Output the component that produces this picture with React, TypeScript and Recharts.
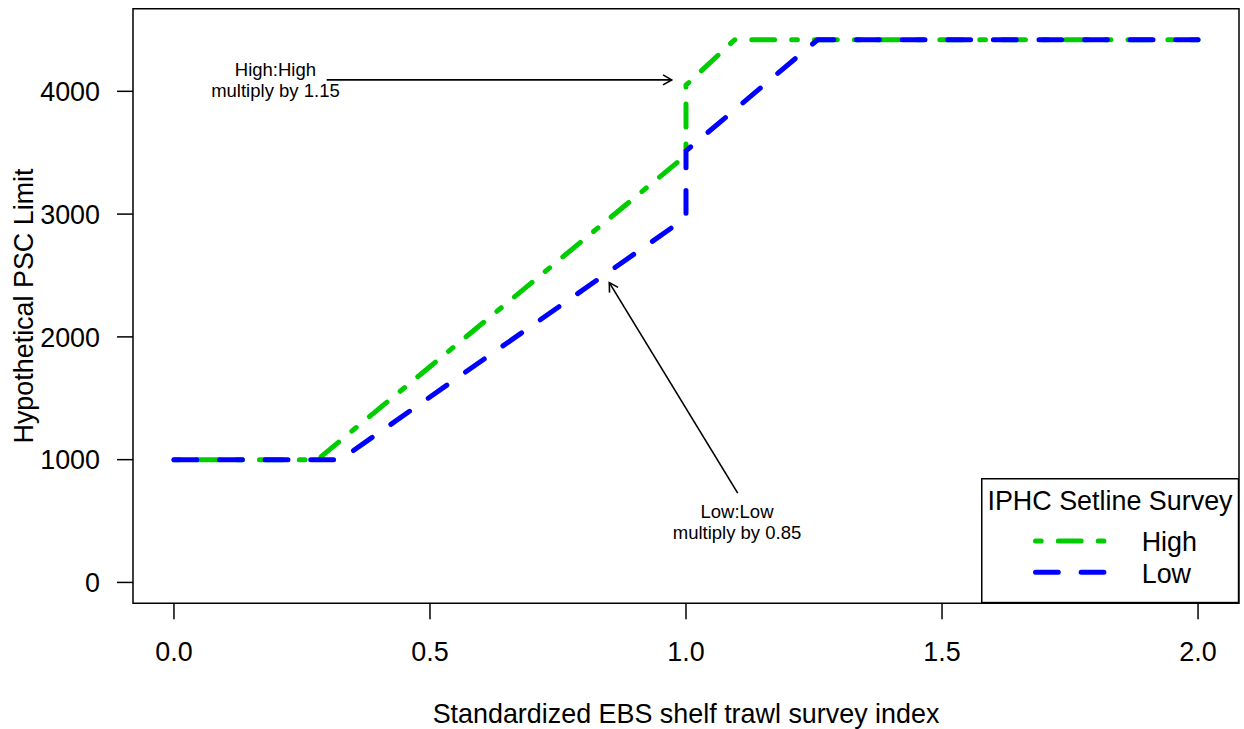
import React from 'react';
import {
  LineChart,
  Line,
  XAxis,
  YAxis,
  ReferenceArea,
  ReferenceLine,
  ReferenceDot,
} from 'recharts';

// ---- data ----
const highX = [0, 0.28, 1.0, 1.0, 1.095, 2.0];
const highY = [1000, 1000, 3480, 4050, 4420, 4420];
const lowX = [0, 0.325, 1.0, 1.0, 1.257, 2.0];
const lowY = [1000, 1000, 2970, 3515, 4420, 4420];

const xTicks = [0, 0.5, 1.0, 1.5, 2.0];
const yTicks = [0, 1000, 2000, 3000, 4000];
const xDomain = [-0.08, 2.08];
const yDomain = [-170, 4673];

const highArrow = [
  { x: 0.2982, y: 4093 },
  { x: 0.9721, y: 4093 },
];
const lowArrow = [
  { x: 1.101, y: 727 },
  { x: 0.8502, y: 2442 },
];
const highNote = { x: 0.1982, y: 4093, lines: ['High:High', 'multiply by 1.15'] };
const lowNote = { x: 1.0996, y: 495, lines: ['Low:Low', 'multiply by 0.85'] };

const legendTitle = 'IPHC Setline Survey';
const seriesNames = ['High', 'Low'];

const highData = highX.map((x, i) => ({ x, y: highY[i] }));
const lowData = lowX.map((x, i) => ({ x, y: lowY[i] }));

const FONT = '"Liberation Sans", Arial, sans-serif';
const FS = 26.9;
const GREEN = '#00CD00';
const BLUE = '#0000FF';
const U = 5.7;
const GREEN_DASH = `${U} ${3 * U} ${4 * U} ${3 * U}`;
const BLUE_DASH = `${4 * U} ${4 * U}`;

const Arrow = (props: any) => {
  const { x1, y1, x2, y2 } = props;
  const ang = Math.atan2(y2 - y1, x2 - x1);
  const L = 10;
  const a = Math.PI / 6;
  const ax = x2 - L * Math.cos(ang - a);
  const ay = y2 - L * Math.sin(ang - a);
  const bx = x2 - L * Math.cos(ang + a);
  const by = y2 - L * Math.sin(ang + a);
  return (
    <g>
      <line x1={x1} y1={y1} x2={x2} y2={y2} stroke="#000" strokeWidth={1.6} />
      <polyline
        points={`${ax},${ay} ${x2},${y2} ${bx},${by}`}
        fill="none"
        stroke="#000"
        strokeWidth={1.6}
      />
    </g>
  );
};

const makeNote = (lines: string[]) => (props: any) => {
  const { cx, cy } = props;
  return (
    <g>
      <text x={cx} y={cy - 3.5} textAnchor="middle" fontFamily={FONT} fontSize={18.5} fill="#000">
        {lines[0]}
      </text>
      <text x={cx} y={cy + 17.5} textAnchor="middle" fontFamily={FONT} fontSize={18.5} fill="#000">
        {lines[1]}
      </text>
    </g>
  );
};

const XTick = (props: any) => {
  const { x, y, payload } = props;
  return (
    <text x={x} y={y + 41.7} textAnchor="middle" fontFamily={FONT} fontSize={FS} fill="#000">
      {Number(payload.value).toFixed(1)}
    </text>
  );
};

const YTick = (props: any) => {
  const { x, y, payload } = props;
  return (
    <text x={x - 17} y={y} dy="0.36em" textAnchor="end" fontFamily={FONT} fontSize={FS} fill="#000">
      {payload.value}
    </text>
  );
};

const XTitle = (props: any) => {
  const vb = props.viewBox;
  return (
    <text
      x={vb.x + vb.width / 2}
      y={vb.y + 119.7}
      textAnchor="middle"
      fontFamily={FONT}
      fontSize={FS}
      fill="#000"
    >
      Standardized EBS shelf trawl survey index
    </text>
  );
};

const YTitle = (props: any) => {
  const vb = props.viewBox;
  const cx = 32.5;
  const cy = vb.y + vb.height / 2;
  return (
    <text
      x={cx}
      y={cy}
      transform={`rotate(-90 ${cx} ${cy})`}
      textAnchor="middle"
      fontFamily={FONT}
      fontSize={FS}
      fill="#000"
    >
      Hypothetical PSC Limit
    </text>
  );
};

const LegendBox = () => (
  <div
    style={{
      position: 'absolute',
      left: 980.7,
      top: 478,
      width: 258.3,
      height: 125.3,
      pointerEvents: 'none',
    }}
  >
    <svg width={258.3} height={125.3} style={{ display: 'block' }}>
      <rect x={0.75} y={0.75} width={256.8} height={123.8} fill="#fff" stroke="#000" strokeWidth={1.5} />
      <text x={129} y={32} textAnchor="middle" fontFamily={FONT} fontSize={FS} fill="#000">
        {legendTitle}
      </text>
      <line
        x1={54.5}
        y1={63}
        x2={123.5}
        y2={63}
        stroke={GREEN}
        strokeWidth={5}
        strokeLinecap="round"
        strokeDasharray={GREEN_DASH}
      />
      <line
        x1={54.5}
        y1={94.3}
        x2={123.5}
        y2={94.3}
        stroke={BLUE}
        strokeWidth={5}
        strokeLinecap="round"
        strokeDasharray={BLUE_DASH}
      />
      <text x={160.7} y={72.7} fontFamily={FONT} fontSize={FS} fill="#000">
        {seriesNames[0]}
      </text>
      <text x={160.7} y={104.7} fontFamily={FONT} fontSize={FS} fill="#000">
        {seriesNames[1]}
      </text>
    </svg>
  </div>
);

export default function App() {
  return (
    <div style={{ position: 'absolute', left: 0, top: 0, width: 1244, height: 729, background: '#fff' }}>
      <LineChart width={1244} height={729} margin={{ top: 8.7, right: 5, bottom: 0, left: 0 }}>
        <XAxis
          dataKey="x"
          type="number"
          domain={xDomain}
          ticks={xTicks}
          allowDataOverflow
          axisLine={false}
          tickLine={{ stroke: '#000', strokeWidth: 1.5 }}
          tickSize={16}
          tickMargin={0}
          height={125.7}
          tick={<XTick />}
          label={{ content: <XTitle /> }}
        />
        <YAxis
          type="number"
          domain={yDomain}
          ticks={yTicks}
          allowDataOverflow
          axisLine={false}
          tickLine={{ stroke: '#000', strokeWidth: 1.5 }}
          tickSize={16}
          tickMargin={0}
          width={133}
          tick={<YTick />}
          label={{ content: <YTitle /> }}
        />
        <ReferenceArea
          x1={xDomain[0]}
          x2={xDomain[1]}
          y1={yDomain[0]}
          y2={yDomain[1]}
          fill="none"
          fillOpacity={0}
          stroke="#000"
          strokeWidth={1.5}
          ifOverflow="visible"
        />
        <Line
          data={highData}
          dataKey="y"
          type="linear"
          stroke={GREEN}
          strokeWidth={5}
          strokeLinecap="round"
          strokeLinejoin="round"
          strokeDasharray={GREEN_DASH}
          dot={false}
          activeDot={false}
          isAnimationActive={false}
          name={seriesNames[0]}
        />
        <Line
          data={lowData}
          dataKey="y"
          type="linear"
          stroke={BLUE}
          strokeWidth={5}
          strokeLinecap="round"
          strokeLinejoin="round"
          strokeDasharray={BLUE_DASH}
          dot={false}
          activeDot={false}
          isAnimationActive={false}
          name={seriesNames[1]}
        />
        <ReferenceLine segment={highArrow} shape={Arrow} ifOverflow="visible" />
        <ReferenceLine segment={lowArrow} shape={Arrow} ifOverflow="visible" />
        <ReferenceDot x={highNote.x} y={highNote.y} r={0} shape={makeNote(highNote.lines)} ifOverflow="visible" />
        <ReferenceDot x={lowNote.x} y={lowNote.y} r={0} shape={makeNote(lowNote.lines)} ifOverflow="visible" />
      </LineChart>
      <LegendBox />
    </div>
  );
}
